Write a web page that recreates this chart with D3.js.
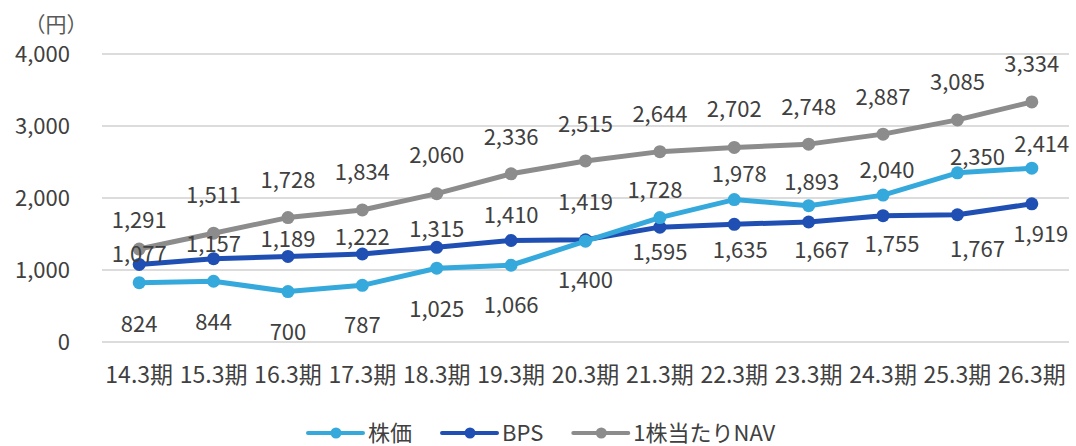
<!DOCTYPE html>
<html lang="ja">
    <head>
        <meta charset="utf-8">
        <title>株価・BPS・1株当たりNAV</title>
        <script type="text/javascript" src="https://d3js.org/d3.v7.min.js"></script>
        <style type="text/css">
            body { margin: 0; background: #fff; }
            text { font-family: "Noto Sans CJK JP", "Noto Sans", sans-serif; fill: #404040; }
        </style>
    </head>
    <body>
        <div id="chart"></div>
        <script type="text/javascript">

            // data
            var periods = ["14.3期","15.3期","16.3期","17.3期","18.3期","19.3期","20.3期",
                           "21.3期","22.3期","23.3期","24.3期","25.3期","26.3期"];
            var stockPrice = [824, 844, 700, 787, 1025, 1066, 1400, 1728, 1978, 1893, 2040, 2350, 2414];
            var bps = [1077, 1157, 1189, 1222, 1315, 1410, 1419, 1595, 1635, 1667, 1755, 1767, 1919];
            var nav = [1291, 1511, 1728, 1834, 2060, 2336, 2515, 2644, 2702, 2748, 2887, 3085, 3334];
            var yTicks = [0, 1000, 2000, 3000, 4000];

            // where each data label sits relative to its point (hand placed in the original)
            var labelShift = {
                stock: { dx: [0,0,0,0,0,0,0,-5,5,3,4,20,10], dy: [39,39,38,38,39,38,37,-30,-28,-26,-27,-18,-26] },
                bps:   { dx: [0,0,0,0,0,0,0,0,6,13,9,20,9],  dy: [-12,-17,-19,-19,-20,-27,-40,23,24,26,26,32,28] },
                nav:   { dx: [0,0,0,0,0,0,0,0,0,0,0,0,0],    dy: [-31,-40,-40,-40,-41,-39,-39,-40,-40,-39,-39,-40,-40] }
            };

            var series = [
                { key: "stock", name: "株価", values: stockPrice, color: "#36a9dc" },
                { key: "bps", name: "BPS", values: bps, color: "#1f4fb3" },
                { key: "nav", name: "1株当たりNAV", values: nav, color: "#8c8c8c" }
            ];

            var W = 1076, H = 446;
            var margin = {top: 54, right: 7, bottom: 104, left: 102},
                width = W - margin.left - margin.right,
                height = H - margin.top - margin.bottom;

            var svg = d3.select("#chart")
                .append("svg")
                    .attr("width", W)
                    .attr("height", H);

            var g = svg.append("g")
                .attr("transform", "translate(" + margin.left + "," + margin.top + ")");

            var x = d3.scaleBand()
                .domain(periods)
                .range([0, width]);

            var y = d3.scaleLinear()
                .domain([0, 4000])
                .range([height, 0]);

            // gridlines
            g.append("g")
                .selectAll("line")
                .data(yTicks)
                .join("line")
                    .attr("x1", 0)
                    .attr("x2", width)
                    .attr("y1", d => y(d))
                    .attr("y2", d => y(d))
                    .attr("stroke", "#d0d0d0")
                    .attr("stroke-width", 1.5);

            // Y axis
            var yAxis = g.append("g")
                .attr("transform", "translate(-32,0)")
                .call(d3.axisLeft(y).tickValues(yTicks).tickSize(0).tickPadding(0).tickFormat(d3.format(",")));
            yAxis.select(".domain").remove();
            yAxis.selectAll("text")
                .attr("font-size", 22)
                .attr("font-family", null)
                .attr("fill", "#404040");

            // X axis
            var xAxis = g.append("g")
                .attr("transform", "translate(0," + height + ")")
                .call(d3.axisBottom(x).tickSize(0).tickPadding(25));
            xAxis.select(".domain").remove();
            xAxis.selectAll("text")
                .attr("font-size", 23)
                .attr("font-family", null)
                .attr("fill", "#404040");

            // unit
            svg.append("text")
                .attr("x", 56)
                .attr("y", 23)
                .attr("text-anchor", "middle")
                .attr("dominant-baseline", "central")
                .attr("font-size", 21)
                .style("fill", "#595959")
                .text("（円）");

            var px = i => x(periods[i]) + x.bandwidth() / 2;

            var line = d3.line()
                .x((d, i) => px(i))
                .y(d => y(d));

            // draw lines + markers, nav first so it sits underneath
            series.slice().reverse().forEach(function(s) {
                g.append("path")
                    .datum(s.values)
                    .attr("fill", "none")
                    .attr("stroke", s.color)
                    .attr("stroke-width", 5)
                    .attr("stroke-linejoin", "round")
                    .attr("d", line);

                g.append("g")
                    .selectAll("circle")
                    .data(s.values)
                    .join("circle")
                        .attr("cx", (d, i) => px(i))
                        .attr("cy", d => y(d))
                        .attr("r", 6.5)
                        .attr("fill", s.color);
            });

            // data labels
            series.forEach(function(s) {
                var sh = labelShift[s.key];
                g.append("g")
                    .selectAll("text")
                    .data(s.values)
                    .join("text")
                        .attr("x", (d, i) => px(i) + sh.dx[i])
                        .attr("y", (d, i) => y(d) + sh.dy[i])
                        .attr("text-anchor", "middle")
                        .attr("dominant-baseline", "central")
                        .attr("font-size", 22)
                        .text(d => d3.format(",")(d));
            });

            // legend
            var legend = svg.append("g")
                .attr("transform", "translate(308,431)");
            var lx = 0;
            series.forEach(function(s) {
                var item = legend.append("g").attr("transform", "translate(" + lx + ",0)");
                item.append("line")
                    .attr("x1", 0).attr("x2", 55)
                    .attr("y1", 2).attr("y2", 2)
                    .attr("stroke", s.color)
                    .attr("stroke-width", 4)
                    .attr("stroke-linecap", "round");
                item.append("circle")
                    .attr("cx", 28).attr("cy", 2).attr("r", 5.5)
                    .attr("fill", s.color);
                var t = item.append("text")
                    .attr("x", 60)
                    .attr("dominant-baseline", "central")
                    .attr("font-size", 22)
                    .text(s.name);
                lx += 60 + t.node().getComputedTextLength() + 30;
            });
        </script>
    </body>
</html>
